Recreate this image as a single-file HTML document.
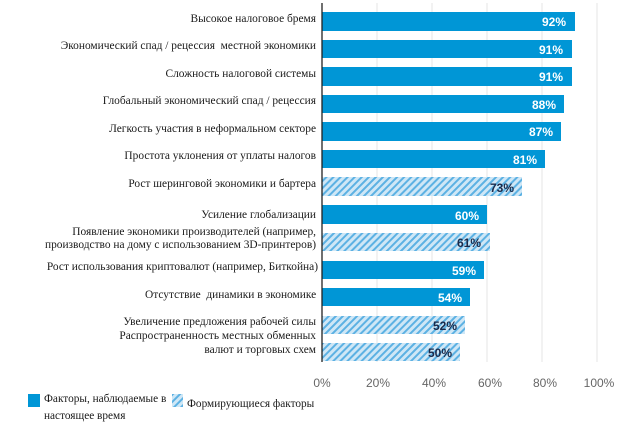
<!DOCTYPE html>
<html><head><meta charset="utf-8"><style>
body{margin:0;background:#fff;}
svg{display:block;}
.l{font-family:"Liberation Serif","DejaVu Serif",serif;font-size:11.4px;fill:#1a1a1a;text-anchor:end;}
.v{font-family:"Liberation Sans","DejaVu Sans",sans-serif;font-size:12px;font-weight:bold;text-anchor:end;}
.t{font-family:"Liberation Sans","DejaVu Sans",sans-serif;font-size:12px;fill:#666;text-anchor:middle;}
.lg{font-family:"Liberation Serif","DejaVu Serif",serif;font-size:11.3px;fill:#1a1a1a;}
</style></head><body>
<svg width="624" height="427" viewBox="0 0 624 427" xmlns="http://www.w3.org/2000/svg">
<defs>
<pattern id="h" patternUnits="userSpaceOnUse" width="5" height="5" patternTransform="rotate(45)">
<rect width="5" height="5" fill="#cfe7f6"/>
<rect width="2" height="5" fill="#5cb1e3"/>
</pattern>
</defs>
<g stroke="#e6e6e6" stroke-width="1">
<line x1="377" y1="3" x2="377" y2="362"/><line x1="432" y1="3" x2="432" y2="362"/>
<line x1="487" y1="3" x2="487" y2="362"/><line x1="542" y1="3" x2="542" y2="362"/>
<line x1="597" y1="3" x2="597" y2="362"/>
</g>
<g fill="#0096d6">
<rect x="322" y="12" width="253" height="19"/>
<rect x="322" y="40" width="250" height="18"/>
<rect x="322" y="67" width="250" height="19"/>
<rect x="322" y="95" width="242" height="18"/>
<rect x="322" y="122" width="239" height="19"/>
<rect x="322" y="150" width="223" height="18"/>
<rect x="322" y="205" width="165" height="19"/>
<rect x="322" y="261" width="162" height="18"/>
<rect x="322" y="288" width="148" height="18"/>
</g>
<g fill="url(#h)">
<rect x="322" y="177" width="200" height="19"/>
<rect x="322" y="233" width="168" height="18"/>
<rect x="322" y="316" width="143" height="18"/>
<rect x="322" y="343" width="138" height="18"/>
</g>
<line x1="322" y1="3" x2="322" y2="362" stroke="#222" stroke-width="1.3"/>
<g class="v" fill="#fff">
<text x="566" y="26">92%</text><text x="563" y="54">91%</text><text x="563" y="81">91%</text>
<text x="556" y="109">88%</text><text x="553" y="136">87%</text><text x="537" y="164">81%</text>
<text x="479" y="220">60%</text><text x="476" y="275">59%</text><text x="462" y="302">54%</text>
</g>
<g class="v" fill="#1b2a4a">
<text x="514" y="192">73%</text><text x="481" y="247">61%</text>
<text x="457" y="330">52%</text><text x="452" y="357">50%</text>
</g>
<g class="l" xml:space="preserve">
<text x="316" y="22">Высокое налоговое бремя</text>
<text x="316" y="49">Экономический спад / рецессия&#160; местной экономики</text>
<text x="316" y="77">Сложность налоговой системы</text>
<text x="316" y="104">Глобальный экономический спад / рецессия</text>
<text x="316" y="132">Легкость участия в неформальном секторе</text>
<text x="316" y="159">Простота уклонения от уплаты налогов</text>
<text x="316" y="187">Рост шеринговой экономики и бартера</text>
<text x="316" y="218">Усиление глобализации</text>
<text x="316" y="235">Появление экономики производителей (например,</text>
<text x="316" y="248">производство на дому с использованием 3D-принтеров)</text>
<text x="318" y="270">Рост использования криптовалют (например, Биткойна)</text>
<text x="319" y="298">Отсутствие&#160; динамики в экономике&#160;</text>
<text x="316" y="325">Увеличение предложения рабочей силы</text>
<text x="316" y="339">Распространенность местных обменных</text>
<text x="316" y="353">валют и торговых схем</text>
</g>
<g class="t">
<text x="322" y="387">0%</text><text x="378" y="387">20%</text><text x="434" y="387">40%</text>
<text x="490" y="387">60%</text><text x="545" y="387">80%</text><text x="599" y="387">100%</text>
</g>
<rect x="28" y="394" width="12" height="13" fill="#0096d6"/>
<text class="lg" x="44" y="402">Факторы, наблюдаемые в</text>
<text class="lg" x="44" y="419">настоящее время</text>
<rect x="172" y="394" width="11" height="13" fill="url(#h)"/>
<text class="lg" x="187" y="407">Формирующиеся факторы</text>
</svg>
</body></html>
